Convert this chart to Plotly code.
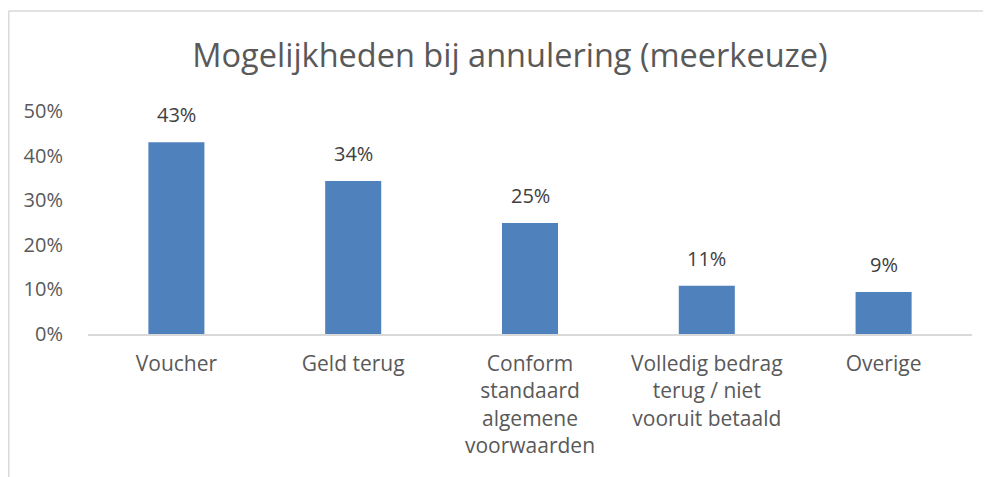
import plotly.graph_objects as go

categories = ["Voucher", "Geld terug", "Conform<br>standaard<br>algemene<br>voorwaarden",
              "Volledig bedrag<br>terug / niet<br>vooruit betaald", "Overige"]
values = [0.43, 0.343, 0.249, 0.108, 0.094]
tick_vals = [0, 0.1, 0.2, 0.3, 0.4, 0.5]
tick_text = ["0%", "10%", "20%", "30%", "40%", "50%"]
title_text = "Mogelijkheden bij annulering (meerkeuze)"

FONT = "Open Sans"
OFF = 8  # page body margin
W, H = 991 - OFF, 477 - OFF
L, R, T, B = 88 - OFF, 19, 111 - OFF, 143
pw, ph = W - L - R, H - T - B

fig = go.Figure()
fig.add_trace(go.Bar(x=categories, y=values, marker_color="#4F81BD",
                     marker_line_width=0, hoverinfo="skip"))

for c, v in zip(categories, values):
    fig.add_annotation(x=c, y=v, text=f"{round(v*100)}%", showarrow=False,
                       yanchor="bottom", yshift=12,
                       font=dict(family=FONT, size=20, color="#404040"))

def px_x(p):
    return (p - OFF - L) / pw

def px_y(p):
    return (H - B - (p - OFF)) / ph

# chart-area border (left and top visible)
fig.add_shape(type="line", xref="paper", yref="paper",
              x0=px_x(8.8), x1=px_x(1000), y0=px_y(11), y1=px_y(11),
              line=dict(color="#D9D9D9", width=1.5))
fig.add_shape(type="line", xref="paper", yref="paper",
              x0=px_x(8.8), x1=px_x(8.8), y0=px_y(11), y1=px_y(490),
              line=dict(color="#D9D9D9", width=1.5))

fig.update_layout(
    width=W, height=H,
    margin=dict(l=L, r=R, t=T, b=B),
    paper_bgcolor="white", plot_bgcolor="white",
    bargap=0.683,
    showlegend=False,
    title=dict(text=title_text, x=(510 - OFF) / W, xanchor="center",
               y=1 - (56 - OFF) / H, yanchor="middle",
               font=dict(family=FONT, size=32.5, color="#595959")),
    xaxis=dict(showline=True, linecolor="#D9D9D9", linewidth=1.5, ticks="",
               ticklabelstandoff=10,
               tickfont=dict(family=FONT, size=21, color="#595959"), fixedrange=True),
    yaxis=dict(range=[0, 0.5], tickvals=tick_vals, ticktext=tick_text, showgrid=False,
               zeroline=False, showline=False, ticks="", ticklabelstandoff=24,
               tickfont=dict(family=FONT, size=20, color="#595959"), fixedrange=True),
)

fig.write_html("out.html")
